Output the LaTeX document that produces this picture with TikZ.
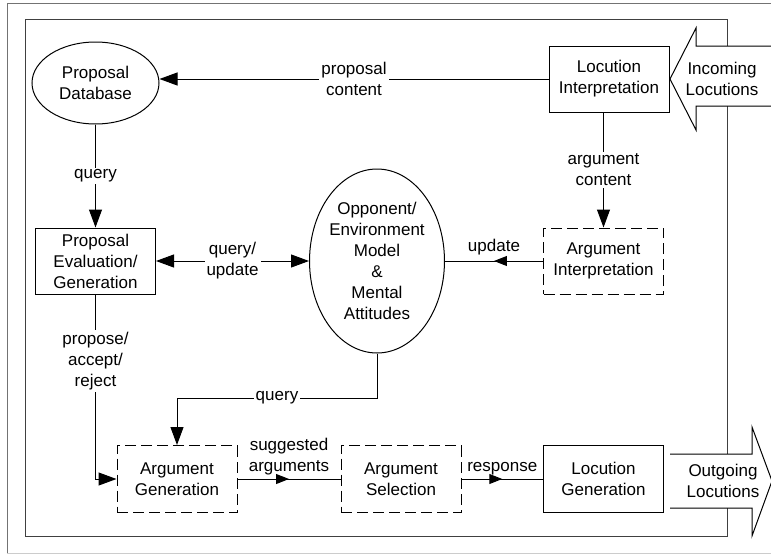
\documentclass[tikz,border=0pt]{standalone}
\usepackage{fontspec}
\setmainfont{Liberation Sans}
\usetikzlibrary{shapes.geometric,arrows.meta,decorations.markings}

\tikzset{
  block/.style={draw, rectangle, minimum width=120pt, minimum height=66pt, align=center},
  dblock/.style={block, dash pattern=on 11pt off 5pt},
  blob/.style={draw, ellipse, inner sep=0pt, align=center},
  lbl/.style={fill=white, inner sep=2pt, align=center},
  midarrow/.style={postaction={decorate}, decoration={markings,
      mark=at position 0.5 with {\arrow{Triangle[length=13pt,width=10pt]}}}},
}

\begin{document}
\begin{tikzpicture}[x=1pt, y=-1pt, line width=1pt, font=\fontsize{17}{21}\selectfont,
    >={Triangle[length=18pt,width=13pt]}]
    \clip (0,0) rectangle (771,554);

    % Frames
    \draw[black!55] (7,553) -- (7,3) -- (780,3);
    \draw[black!20] (7,553) -- (780,553);
    \draw[black!75] (25,19) rectangle (727,536);

    % Incoming and outgoing locutions
    \draw[fill=white] (780,46) -- (696,46) -- (696,28) -- (670,79) -- (696,130) -- (696,106) -- (780,106);
    \node[align=center] (inc) at (722,79) {Incoming\\Locutions};
    \draw[fill=white] (670,454) -- (752,454) -- (752,427) -- (772,481) -- (752,536) -- (752,508) -- (670,508);
    \node[align=center] (out) at (723,481) {Outgoing\\Locutions};

    % Components
    \node[blob, minimum width=127pt, minimum height=82pt] (db) at (95.5,83) {Proposal\\Database};
    \node[block] (locint) at (609,79) {Locution\\Interpretation};
    \node[block] (eval) at (95.5,261) {Proposal\\Evaluation/\\Generation};
    \node[blob, minimum width=128pt, minimum height=184pt] (opp) at (377,261)
        {Opponent/\\Environment\\Model\\\&\\Mental\\Attitudes};
    \node[dblock] (argint) at (603.5,261) {Argument\\Interpretation};
    \node[dblock, minimum height=67pt] (arggen) at (177,479) {Argument\\Generation};
    \node[dblock, minimum height=67pt] (argsel) at (401,479) {Argument\\Selection};
    \node[block, minimum height=67pt] (locgen) at (603.5,479) {Locution\\Generation};
    \coordinate (qbend) at (377,398);

    % Connectors
    \draw[->] (locint.west) -- node[lbl] {proposal\\content} (locint.west -| db.east);
    \draw[->] (db) -- node[lbl] {query} (eval);
    \draw[<->] (eval) -- node[lbl] {query/\\update} (opp);
    \draw[->] (argint.north |- locint.south) -- node[lbl] {argument\\content} (argint.north);
    \draw[midarrow] (argint) -- node[above=2pt, align=center] {update} (opp);
    \draw[->] (eval.south) |- node[lbl, pos=0.18] {propose/\\accept/\\reject} (arggen.west);
    \draw[->] (opp.south) -- (qbend) -| node[lbl, pos=0.25] {query} (arggen.north);
    \draw[midarrow] (arggen) -- node[above, align=center] {suggested\\arguments} (argsel);
    \draw[midarrow] (argsel) -- node[above] {response} (locgen);
\end{tikzpicture}
\end{document}
